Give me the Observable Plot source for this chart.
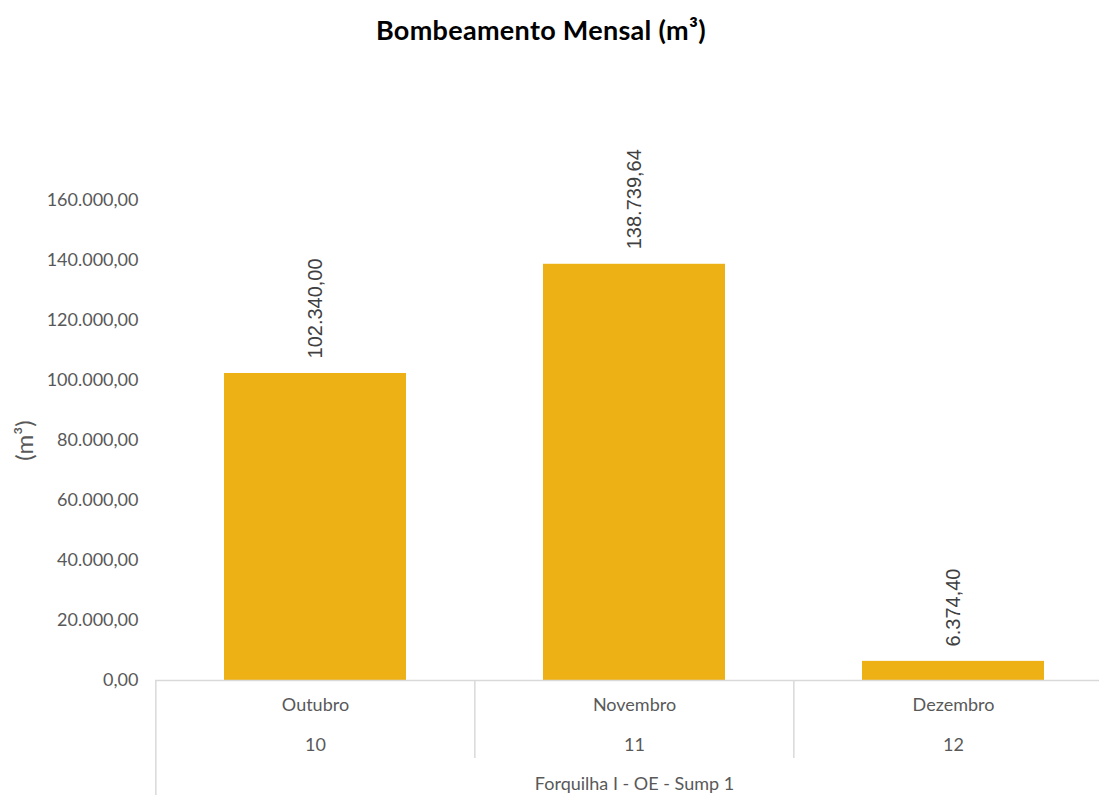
<!DOCTYPE html>
<html><head><meta charset="utf-8">
<script src="https://cdn.jsdelivr.net/npm/d3@7"></script>
<script src="https://cdn.jsdelivr.net/npm/@observablehq/plot@0.6"></script>
<style>
html,body{margin:0;padding:0;background:#fff;overflow:hidden;}
#title{height:60px;line-height:60px;text-align:center;font-family:Lato,sans-serif;font-weight:bold;font-size:27px;letter-spacing:0.3px;color:#000;width:1082px;}
</style></head><body>
<div id="title">Bombeamento Mensal (m³)</div>
<div id="chart"></div>
<script>
const months = ["Outubro", "Novembro", "Dezembro"];
const monthCodes = ["10", "11", "12"];
const volumes = [102340.00, 138739.64, 6374.40];
const groupLabel = "Forquilha I - OE - Sump 1";
const yTicks = [0, 20000, 40000, 60000, 80000, 100000, 120000, 140000, 160000];
const yLabel = "(m³)";

const data = months.map((m, i) => ({month: m, code: monthCodes[i], value: volumes[i]}));
const fmt = d3.formatLocale({decimal: ",", thousands: ".", grouping: [3], currency: ["R$", ""]}).format(",.2f");

const width = 1099, height = 735, mL = 155, mR = -14, mT = 140, mB = 115;
const halfStep = (width - mR - mL) / months.length / 2;
const gray = "#595959", lineGray = "#D9D9D9";

const plot = Plot.plot({
  width, height,
  marginLeft: mL, marginRight: mR, marginTop: mT, marginBottom: mB,
  style: {fontFamily: "Lato, sans-serif", fontSize: "18px", color: gray, background: "#fff"},
  x: {domain: months, paddingInner: 0.43, paddingOuter: 0.215, axis: null},
  y: {domain: [0, 160000], axis: null},
  marks: [
    Plot.axisY(yTicks, {tickSize: 0, tickPadding: 17, tickFormat: fmt, label: null, fill: gray, fontSize: 18}),
    Plot.barY(data, {x: "month", y: "value", fill: "#EDB116"}),
    Plot.ruleY([0], {stroke: lineGray, strokeWidth: 1.5}),
    Plot.ruleX([months[0]], {x: d => d, dx: -halfStep, y1: 0, y2: 0, insetBottom: -mB, stroke: lineGray, strokeWidth: 1.5}),
    Plot.ruleX(months.slice(1), {x: d => d, dx: -halfStep, y1: 0, y2: 0, insetBottom: -78, stroke: lineGray, strokeWidth: 1.5}),
    Plot.text(data, {x: "month", y: "value", text: d => fmt(d.value), rotate: -90, textAnchor: "start", lineAnchor: "middle", dy: -15, fontFamily: "Liberation Sans, Arial, sans-serif", fontSize: 20, fill: "#404040"}),
    Plot.text(data, {x: "month", text: "month", frameAnchor: "bottom", dy: 25, lineAnchor: "middle", fill: gray}),
    Plot.text(data, {x: "month", text: "code", frameAnchor: "bottom", dy: 65, lineAnchor: "middle", fill: gray}),
    Plot.text([groupLabel], {text: d => d, frameAnchor: "bottom", dy: 104, lineAnchor: "middle", fill: gray}),
    Plot.text([yLabel], {text: d => d, frameAnchor: "left", dx: -130, rotate: -90, textAnchor: "middle", lineAnchor: "middle", fontSize: 24, fill: gray})
  ]
});
document.getElementById("chart").appendChild(plot);
</script>
</body></html>
